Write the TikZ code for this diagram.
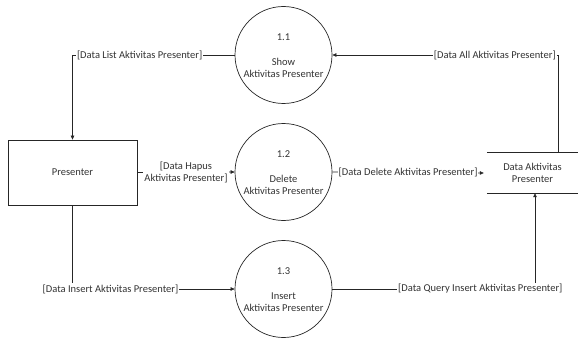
\documentclass[tikz,border=0pt]{standalone}
\usepackage{fontspec}
\setmainfont{Carlito}
\usetikzlibrary{arrows.meta}
\begin{document}
\begin{tikzpicture}[x=1pt,y=1pt,
  every node/.style={font=\fontsize{10.5}{12.6}\selectfont, text=black!80},
  proc/.style={draw=black!85, line width=0.7pt, circle, minimum size=97pt, inner sep=0pt},
  entity/.style={draw=black!85, line width=0.7pt, rectangle, minimum width=129pt, minimum height=65pt},
  store/.style={rectangle, minimum width=91pt, minimum height=40pt, align=center, inner sep=0pt},
  flow/.style={draw=black!85, line width=0.6pt, -{Triangle[length=4pt,width=3.5pt]}},
  flowlabel/.style={fill=white, inner sep=1pt, align=center},
  ptext/.style={align=center, inner sep=0pt}]
\useasboundingbox (0,0) rectangle (578,338);

% external entity
\node[entity] (box) at (72.5,165.5) {Presenter};

% processes
\node[proc] (p1) at (283.5,283) {};
\node[proc] (p2) at (283.5,166) {};
\node[proc] (p3) at (283.5,49) {};
\node[ptext] (p1n) at ([yshift=18]p1.center) {1.1};
\node[ptext] (p1t) at ([yshift=-13]p1.center) {Show\\Aktivitas Presenter};
\node[ptext] (p2n) at ([yshift=18]p2.center) {1.2};
\node[ptext] (p2t) at ([yshift=-13]p2.center) {Delete\\Aktivitas Presenter};
\node[ptext] (p3n) at ([yshift=18]p3.center) {1.3};
\node[ptext] (p3t) at ([yshift=-13]p3.center) {Insert\\Aktivitas Presenter};

% data store
\node[store] (ds) at (532.5,165) {Data Aktivitas\\Presenter};
\draw[black!85, line width=0.7pt] (ds.north west) -- (ds.north east);
\draw[black!85, line width=0.7pt] (ds.south west) -- (ds.south east);

% data flows
\draw[flow] ([xshift=25.5]ds.north) |- (p1.east)
  node[flowlabel, pos=0.64] (l1) {[Data All Aktivitas Presenter]};
\draw[flow] (p1.west) -| (box.north)
  node[flowlabel, pos=0.293] (l2) {[Data List Aktivitas Presenter]};
\draw[flow] (box.east) -- (p2.west)
  node[flowlabel, pos=0.5] (l3) {[Data Hapus\\Aktivitas Presenter]};
\draw[flow] (p2.east) -- ([xshift=-3]ds.west)
  node[flowlabel, pos=0.5] (l4) {[Data Delete Aktivitas Presenter]};
\draw[flow] (box.south) |- (p3.west)
  node[flowlabel, pos=0.617] (l5) {[Data Insert Aktivitas Presenter]};
\draw[flow] (p3.east) -| ([xshift=2.5]ds.south)
  node[flowlabel, pos=0.365] (l6) {[Data Query Insert Aktivitas Presenter]};
\end{tikzpicture}
\end{document}
